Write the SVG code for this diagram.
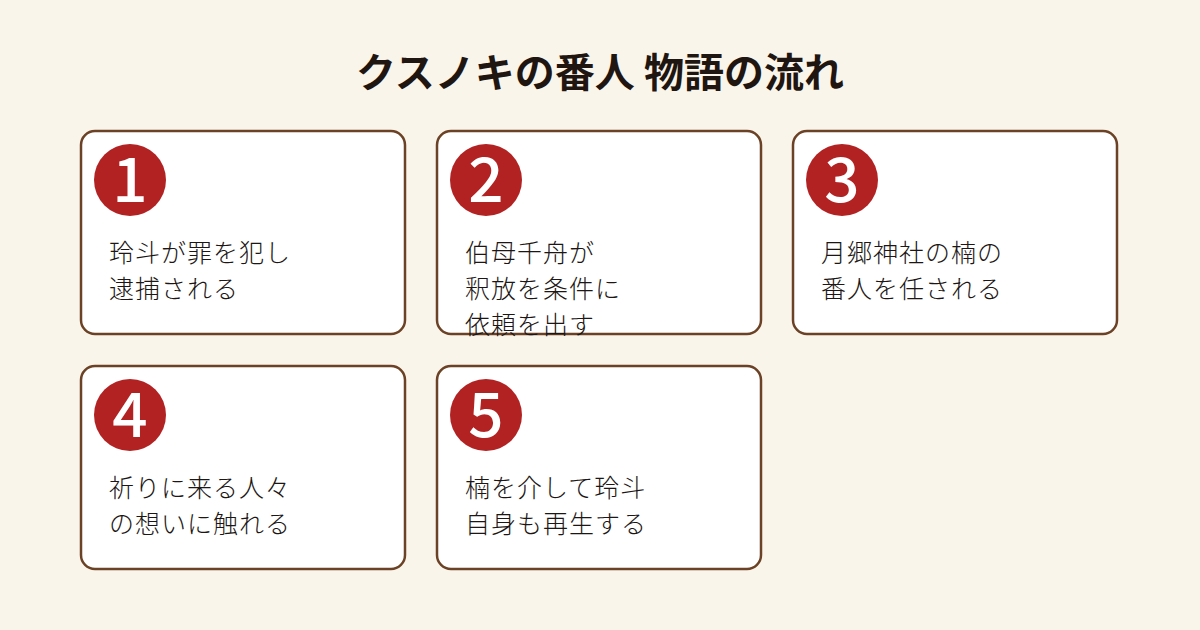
<svg xmlns="http://www.w3.org/2000/svg" width="1200" height="630" viewBox="0 0 1200 630">
<style>
.bg{fill:#faf5ea}
.card{fill:#ffffff;stroke:#6b4226;stroke-width:2.5}
.badge{fill:#b22222}
.num{font-family:"Noto Sans CJK JP","Noto Sans",sans-serif;font-weight:500;font-size:62px;fill:#ffffff;text-anchor:middle}
.body{font-family:"Noto Sans CJK JP","Noto Sans",sans-serif;font-weight:300;font-size:25px;fill:#1c1614;letter-spacing:1px}
.title{font-family:"Noto Sans CJK JP","Noto Sans",sans-serif;font-weight:bold;font-size:40px;fill:#1f1612;text-anchor:middle}
</style>
<rect class="bg" x="0" y="0" width="1200" height="630"/>
<text class="title" x="600" y="87">クスノキの番人 物語の流れ</text>
<g id="connectors"></g>
<g id="node1">
<rect class="card" x="81" y="131" width="324" height="203" rx="14"/>
<circle class="badge" cx="130" cy="180" r="36"/>
<text class="num" x="130" y="202">1</text>
<text class="body" x="109" y="262">玲斗が罪を犯し</text>
<text class="body" x="109" y="298">逮捕される</text>
</g>
<g id="node2">
<rect class="card" x="437" y="131" width="324" height="203" rx="14"/>
<circle class="badge" cx="486" cy="180" r="36"/>
<text class="num" x="486" y="202">2</text>
<text class="body" x="465" y="262">伯母千舟が</text>
<text class="body" x="465" y="298">釈放を条件に</text>
<text class="body" x="465" y="334">依頼を出す</text>
</g>
<g id="node3">
<rect class="card" x="793" y="131" width="324" height="203" rx="14"/>
<circle class="badge" cx="842" cy="180" r="36"/>
<text class="num" x="842" y="202">3</text>
<text class="body" x="821" y="262">月郷神社の楠の</text>
<text class="body" x="821" y="298">番人を任される</text>
</g>
<g id="node4">
<rect class="card" x="81" y="366" width="324" height="203" rx="14"/>
<circle class="badge" cx="130" cy="415" r="36"/>
<text class="num" x="130" y="437">4</text>
<text class="body" x="109" y="497">祈りに来る人々</text>
<text class="body" x="109" y="533">の想いに触れる</text>
</g>
<g id="node5">
<rect class="card" x="437" y="366" width="324" height="203" rx="14"/>
<circle class="badge" cx="486" cy="415" r="36"/>
<text class="num" x="486" y="437">5</text>
<text class="body" x="465" y="497">楠を介して玲斗</text>
<text class="body" x="465" y="533">自身も再生する</text>
</g>
</svg>
